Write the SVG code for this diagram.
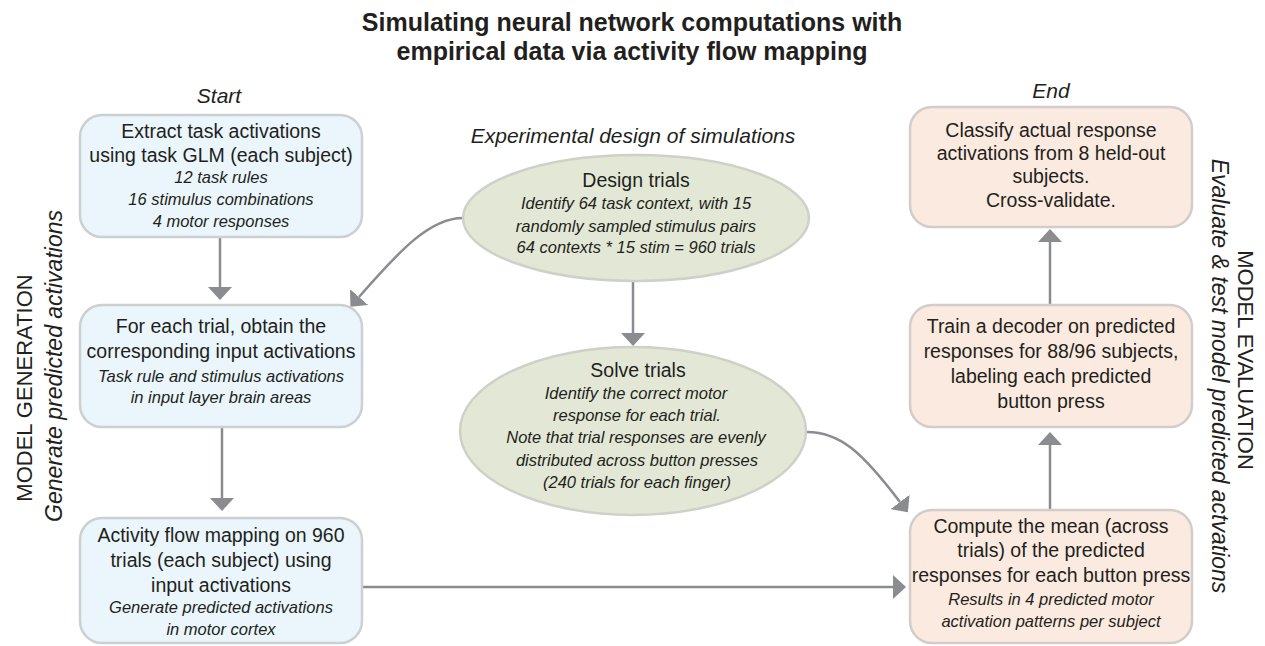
<svg xmlns="http://www.w3.org/2000/svg" width="1265" height="646" viewBox="0 0 1265 646">
  <style>
    text { font-family: "Liberation Sans", Arial, sans-serif; fill: #231f20; }
    .title { font-size: 25px; font-weight: bold; text-anchor: middle; }
    .head { font-size: 21px; font-style: italic; text-anchor: middle; }
    .side { font-size: 22px; text-anchor: middle; }
    .side-it { font-size: 23px; font-style: italic; text-anchor: middle; }
    .main { font-size: 19.5px; text-anchor: middle; }
    .it { font-size: 16.5px; font-style: italic; text-anchor: middle; }
    .blue { fill: #eaf6fb; stroke: #cbd0d2; stroke-width: 2.5; }
    .peach { fill: #fbeadf; stroke: #d2cdca; stroke-width: 2.5; }
    .green { fill: #e2e8d5; stroke: #cdd1c6; stroke-width: 2.5; }
    .link { fill: none; stroke: #8b8c90; stroke-width: 2.5; marker-end: url(#head); }
  </style>
  <defs>
    <marker id="head" viewBox="0 0 13 24" refX="0" refY="12" markerWidth="13" markerHeight="24" markerUnits="userSpaceOnUse" orient="auto">
      <path d="M0,0 L13,12 L0,24 Z" fill="#8b8c90"/>
    </marker>
  </defs>

  <!-- Title -->
  <g id="title">
    <text class="title" x="632" y="31">Simulating neural network computations with</text>
    <text class="title" x="632" y="60">empirical data via activity flow mapping</text>
  </g>

  <!-- Column headings -->
  <text class="head" x="219" y="103">Start</text>
  <text class="head" x="633" y="143">Experimental design of simulations</text>
  <text class="head" x="1051" y="98">End</text>

  <!-- Side labels -->
  <g id="label-generation">
    <text class="side" transform="translate(32,388) rotate(-90)">MODEL GENERATION</text>
    <text class="side-it" transform="translate(62,366) rotate(-90)">Generate predicted activations</text>
  </g>
  <g id="label-evaluation">
    <text class="side" transform="translate(1238,360) rotate(90)">MODEL EVALUATION</text>
    <text class="side-it" transform="translate(1212,376) rotate(90)">Evaluate &amp; test model predicted actvations</text>
  </g>

  <!-- Connectors -->
  <g id="connectors">
    <path class="link" d="M220,237 L220,287"/>
    <path class="link" d="M222,428 L222,498"/>
    <path class="link" d="M633,282 L633,333"/>
    <path class="link" d="M362,587 L893,587"/>
    <path class="link" d="M1050,510 L1050,445"/>
    <path class="link" d="M1050,305 L1050,242"/>
    <path class="link" d="M463,218 C430,218 400,250 359,297"/>
    <path class="link" d="M807,432 C840,432 862,452 900,502"/>
  </g>

  <!-- Model generation column -->
  <g id="extract">
    <rect class="blue" x="80" y="115" width="282" height="122" rx="22"/>
    <text class="main" x="221" y="138">Extract task activations</text>
    <text class="main" x="221" y="162">using task GLM (each subject)</text>
    <text class="it" x="221" y="183">12 task rules</text>
    <text class="it" x="221" y="205">16 stimulus combinations</text>
    <text class="it" x="221" y="227">4 motor responses</text>
  </g>
  <g id="obtain-inputs">
    <rect class="blue" x="80" y="305" width="282" height="122" rx="22"/>
    <text class="main" x="221" y="333">For each trial, obtain the</text>
    <text class="main" x="221" y="358">corresponding input activations</text>
    <text class="it" x="221" y="382">Task rule and stimulus activations</text>
    <text class="it" x="221" y="403">in input layer brain areas</text>
  </g>
  <g id="activity-flow">
    <rect class="blue" x="80" y="518" width="282" height="125" rx="22"/>
    <text class="main" x="221" y="542">Activity flow mapping on 960</text>
    <text class="main" x="221" y="567">trials (each subject) using</text>
    <text class="main" x="221" y="592">input activations</text>
    <text class="it" x="221" y="613">Generate predicted activations</text>
    <text class="it" x="221" y="635">in motor cortex</text>
  </g>

  <!-- Experimental design column -->
  <g id="design-trials">
    <ellipse class="green" cx="636" cy="218" rx="173" ry="63"/>
    <text class="main" x="636" y="187">Design trials</text>
    <text class="it" x="636" y="209">Identify 64 task context, with 15</text>
    <text class="it" x="636" y="232">randomly sampled stimulus pairs</text>
    <text class="it" x="636" y="253">64 contexts * 15 stim = 960 trials</text>
  </g>
  <g id="solve-trials">
    <ellipse class="green" cx="633" cy="431" rx="173" ry="84"/>
    <text class="main" x="638" y="377">Solve trials</text>
    <text class="it" x="636" y="399">Identify the correct motor</text>
    <text class="it" x="637" y="421">response for each trial.</text>
    <text class="it" x="636" y="443">Note that trial responses are evenly</text>
    <text class="it" x="637" y="466">distributed across button presses</text>
    <text class="it" x="637" y="488">(240 trials for each finger)</text>
  </g>

  <!-- Model evaluation column -->
  <g id="classify">
    <rect class="peach" x="910" y="107" width="282" height="120" rx="22"/>
    <text class="main" x="1051" y="137">Classify actual response</text>
    <text class="main" x="1051" y="160">activations from 8 held-out</text>
    <text class="main" x="1051" y="183">subjects.</text>
    <text class="main" x="1051" y="207">Cross-validate.</text>
  </g>
  <g id="train-decoder">
    <rect class="peach" x="910" y="305" width="282" height="122" rx="22"/>
    <text class="main" x="1051" y="333">Train a decoder on predicted</text>
    <text class="main" x="1051" y="358">responses for 88/96 subjects,</text>
    <text class="main" x="1051" y="383">labeling each predicted</text>
    <text class="main" x="1051" y="408">button press</text>
  </g>
  <g id="compute-mean">
    <rect class="peach" x="910" y="510" width="282" height="133" rx="22"/>
    <text class="main" x="1051" y="533">Compute the mean (across</text>
    <text class="main" x="1051" y="557">trials) of the predicted</text>
    <text class="main" x="1051" y="582">responses for each button press</text>
    <text class="it" x="1051" y="605">Results in 4 predicted motor</text>
    <text class="it" x="1051" y="627">activation patterns per subject</text>
  </g>
</svg>
